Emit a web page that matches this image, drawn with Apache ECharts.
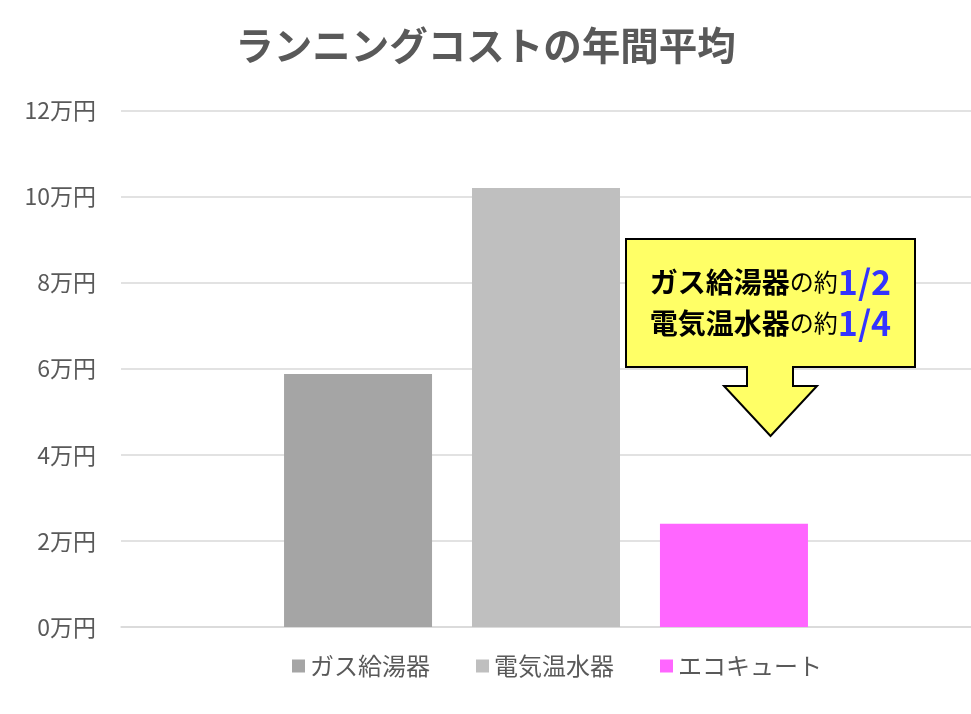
<!DOCTYPE html>
<html>
<head>
<meta charset="utf-8">
<script src="https://cdn.jsdelivr.net/npm/echarts@6/dist/echarts.min.js"></script>
<style>
html,body{margin:0;padding:0;background:#fff;}
#c{width:971px;height:714px;}
</style>
</head>
<body>
<div id="c"></div>
<script>
const titleText = 'ランニングコストの年間平均';
const seriesNames = ['ガス給湯器', '電気温水器', 'エコキュート'];
const seriesValues = [5.88, 10.2, 2.4];
const seriesColors = ['#A5A5A5', '#BFBFBF', '#FF66FF'];
const yUnit = '万円';
const yMin = 0, yMax = 12, yStep = 2;

const FONT = '"Noto Sans CJK JP", "Noto Sans", sans-serif';
const chart = echarts.init(document.getElementById('c'));

const series = seriesNames.map((n, i) => ({
  name: n,
  type: 'bar',
  data: [seriesValues[i]],
  barWidth: 148,
  barGap: '27%',
  itemStyle: { color: seriesColors[i] }
}));

const rich = {
  b: { fontFamily: FONT, fontSize: 28, fontWeight: 'bold', fill: '#000', color: '#000' },
  s: { fontFamily: FONT, fontSize: 24, fill: '#000', color: '#000' },
  n: { fontFamily: FONT, fontSize: 34, fontWeight: 'bold', fill: '#3333FF', color: '#3333FF' }
};

chart.setOption({
  backgroundColor: '#fff',
  animation: false,
  title: {
    text: titleText,
    left: 'center',
    top: 21,
    textStyle: { fontFamily: FONT, fontSize: 38.5, fontWeight: 'bold', color: '#595959' }
  },
  legend: {
    data: seriesNames,
    bottom: 31,
    left: 287,
    icon: 'rect',
    itemWidth: 13,
    itemHeight: 13,
    itemGap: 46,
    textStyle: { fontFamily: FONT, fontSize: 24, color: '#595959' }
  },
  grid: { left: 121, right: 0, top: 110.5, bottom: 87, containLabel: false },
  xAxis: {
    type: 'category',
    data: [''],
    axisLine: { show: true, lineStyle: { color: '#D9D9D9', width: 1.5 } },
    axisTick: { show: false },
    axisLabel: { show: false }
  },
  yAxis: {
    type: 'value',
    min: yMin, max: yMax, interval: yStep,
    axisLine: { show: false },
    axisTick: { show: false },
    splitLine: { lineStyle: { color: '#D9D9D9', width: 1.5 } },
    axisLabel: {
      margin: 25,
      formatter: v => v + yUnit,
      fontFamily: FONT, fontSize: 23, color: '#595959'
    }
  },
  series: series,
  graphic: [
    {
      type: 'polygon',
      shape: {
        points: [[626, 239], [915, 239], [915, 367], [793, 367], [793, 386], [817, 386],
                 [770.5, 436], [724, 386], [747, 386], [747, 367], [626, 367]]
      },
      style: { fill: '#FFFF66', stroke: '#000', lineWidth: 2 },
      z: 100
    },
    {
      type: 'text',
      x: 770.5,
      y: 282,
      z: 101,
      style: {
        text: '{b|ガス給湯器}{s|の約}{n|1/2}',
        align: 'center',
        verticalAlign: 'middle',
        rich: rich
      }
    },
    {
      type: 'text',
      x: 770.5,
      y: 323,
      z: 101,
      style: {
        text: '{b|電気温水器}{s|の約}{n|1/4}',
        align: 'center',
        verticalAlign: 'middle',
        rich: rich
      }
    }
  ]
});
</script>
</body>
</html>
